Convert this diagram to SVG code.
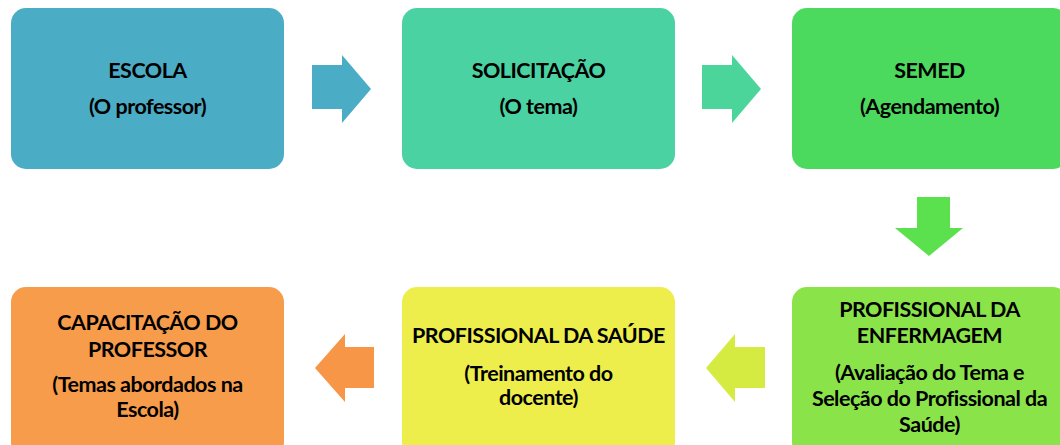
<svg xmlns="http://www.w3.org/2000/svg" width="1060" height="445" viewBox="0 0 1060 445">
<style>
text{font-family:Lato,"Liberation Sans",sans-serif;font-weight:bold;font-size:21.5px;letter-spacing:-0.5px;fill:#000;text-anchor:middle}
</style>
<rect width="1060" height="445" fill="#fff"/>
<g id="connectors">
<polygon points="312,65 342,65 342,55 371,89 342,123 342,109 312,109" fill="#4BACC6"/>
<polygon points="702,65 732,65 732,55 761,89 732,123 732,109 702,109" fill="#4BD59B"/>
<polygon points="917,197 950,197 950,228 963,228 929,256 895,228 917,228" fill="#5BE04E"/>
<polygon points="765,347 735,347 735,334 706,368 735,402 735,388 765,388" fill="#D6EB42"/>
<polygon points="374,347 345,347 345,334 315,368 345,402 345,388 374,388" fill="#F79646"/>
</g>
<g id="escola">
<rect x="11" y="8" width="273" height="161" rx="15" fill="#4BACC6"/>
<text x="147.5" y="78">ESCOLA</text>
<text x="147.5" y="114">(O professor)</text>
</g>
<g id="solicitacao">
<rect x="402" y="8" width="273" height="161" rx="15" fill="#4BD2A3"/>
<text x="538.5" y="78">SOLICITAÇÃO</text>
<text x="538.5" y="114">(O tema)</text>
</g>
<g id="semed">
<rect x="792" y="8" width="276" height="161" rx="15" fill="#4CDA5E"/>
<text x="929.5" y="78">SEMED</text>
<text x="929.5" y="114">(Agendamento)</text>
</g>
<g id="enfermagem">
<rect x="792" y="287" width="276" height="170" rx="15" fill="#8BE34A"/>
<text x="929.5" y="317">PROFISSIONAL DA</text>
<text x="929.5" y="343">ENFERMAGEM</text>
<text x="929.5" y="380">(Avaliação do Tema e</text>
<text x="929.5" y="406">Seleção do Profissional da</text>
<text x="929.5" y="432">Saúde)</text>
</g>
<g id="saude">
<rect x="402" y="287" width="273" height="170" rx="15" fill="#EDEE4B"/>
<text x="538.5" y="343">PROFISSIONAL DA SAÚDE</text>
<text x="538.5" y="381">(Treinamento do</text>
<text x="538.5" y="405">docente)</text>
</g>
<g id="capacitacao">
<rect x="11" y="287" width="273" height="170" rx="15" fill="#F79C4B"/>
<text x="147.5" y="330">CAPACITAÇÃO DO</text>
<text x="147.5" y="357">PROFESSOR</text>
<text x="147.5" y="392">(Temas abordados na</text>
<text x="147.5" y="417">Escola)</text>
</g>
</svg>
